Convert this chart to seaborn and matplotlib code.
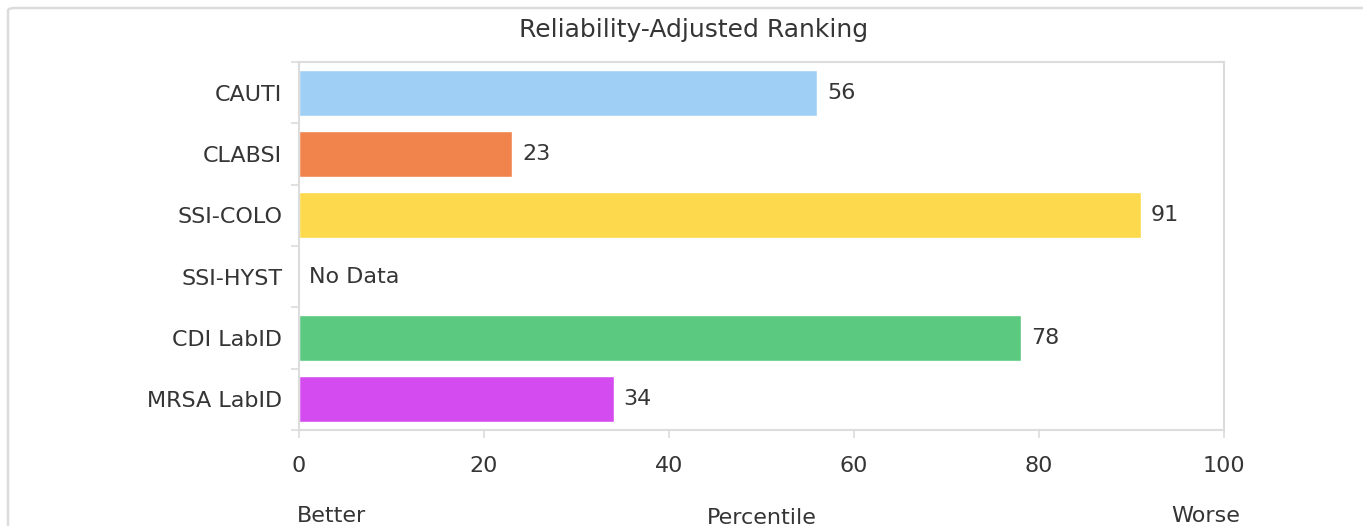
import matplotlib
matplotlib.use("Agg")
import matplotlib.pyplot as plt
import numpy as np
import pandas as pd
import seaborn as sns
from matplotlib.patches import FancyBboxPatch

# data
categories = ["CAUTI", "CLABSI", "SSI-COLO", "SSI-HYST", "CDI LabID", "MRSA LabID"]
percentiles = [56, 23, 91, np.nan, 78, 34]
bar_colors = ["#a0cff5", "#f0844c", "#fdd94d", "#cccccc", "#5bc97f", "#d44cf0"]
x_ticks = [0, 20, 40, 60, 80, 100]
no_data_label = "No Data"

sns.set_theme(style="white")
plt.rcParams["font.family"] = ["DejaVu Sans"]
text_color = "#353535"
frame_color = "#dcdcdc"
fs = 16

df = pd.DataFrame({"measure": categories, "percentile": percentiles})

fig = plt.figure(figsize=(13.63, 5.26), dpi=100)
ax = fig.add_axes([299 / 1363, 1 - 430 / 526, (1224 - 299) / 1363, (430 - 62) / 526])

sns.barplot(data=df, y="measure", x="percentile", hue="measure",
            palette=dict(zip(categories, bar_colors)), order=categories,
            width=0.75, legend=False, ax=ax, saturation=1)

ax.set_xlim(0, 100)
ax.set_ylim(len(categories) - 0.5, -0.5)
ax.set_xticks(x_ticks)
ax.set_xticklabels([str(t) for t in x_ticks])
ax.set_xlabel("")
ax.set_ylabel("")

# value labels
for i, (cat, val) in enumerate(zip(categories, percentiles)):
    if np.isnan(val):
        ax.text(1.1, i, no_data_label, va="center", ha="left",
                fontsize=fs, color=text_color)
    else:
        ax.text(val + 1.1, i, f"{int(val)}", va="center", ha="left",
                fontsize=fs, color=text_color)

for s in ax.spines.values():
    s.set_color(frame_color)
    s.set_linewidth(1.5)

ax.tick_params(axis="x", length=6, width=1.2, color=frame_color, pad=13,
               labelsize=fs, labelcolor=text_color, bottom=True)
ax.tick_params(axis="y", length=0, pad=12, labelsize=fs, labelcolor=text_color)
ax.set_yticks(np.arange(-0.5, len(categories), 1), minor=True)
ax.tick_params(axis="y", which="minor", length=6, width=1.2, color=frame_color, left=True)

# title and axis annotations
fig.text(694 / 1363, 1 - 30 / 526, "Reliability-Adjusted Ranking", ha="center",
         va="center", fontsize=18, color=text_color)
fig.text(297 / 1363, 1 - 516 / 526, "Better", ha="left", va="center",
         fontsize=fs, color=text_color)
fig.text(762 / 1363, 1 - 518 / 526, "Percentile", ha="center", va="center",
         fontsize=fs, color=text_color)
fig.text(1240 / 1363, 1 - 516 / 526, "Worse", ha="right", va="center",
         fontsize=fs, color=text_color)

# outer chart frame
frame = FancyBboxPatch((8 / 1363, -0.05), 1.2, 1 - 8 / 526 + 0.05,
                       boxstyle="round,pad=0,rounding_size=0.005",
                       transform=fig.transFigure, fill=False,
                       edgecolor=frame_color, linewidth=1.8, zorder=0)
fig.patches.append(frame)

fig.savefig("out.png", dpi=100)
